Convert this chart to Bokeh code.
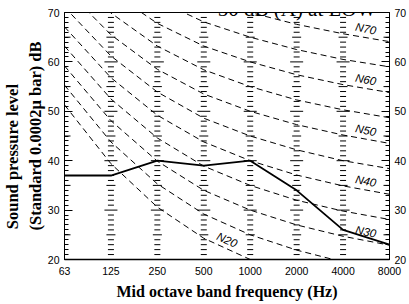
import numpy as np
from bokeh.plotting import figure
from bokeh.models import Range1d, FixedTicker, LinearAxis, SingleIntervalTicker, Label, ColumnDataSource
from bokeh.core.properties import value
from bokeh.embed import file_html
from bokeh.resources import INLINE

# ---------------- data ----------------
freq_labels = ["63", "125", "250", "500", "1000", "2000", "4000", "8000"]
measured_db = [37, 37, 40, 39, 40, 34, 26, 23]

nr20 = [51.3, 39.4, 30.6, 24.3, 20.0, 16.8, 14.4, 12.6]
nr25 = [55.3, 43.8, 35.3, 29.2, 25.0, 21.9, 19.5, 17.8]
nr30 = [59.2, 48.1, 39.9, 34.0, 30.0, 27.0, 24.7, 22.9]
nr35 = [63.2, 52.5, 44.6, 38.9, 35.0, 32.0, 29.8, 28.1]
nr40 = [67.1, 56.8, 49.2, 43.8, 40.0, 37.1, 34.9, 33.2]
nr45 = [71.1, 61.2, 53.9, 48.6, 45.0, 42.2, 40.0, 38.4]
nr50 = [75.0, 65.5, 58.5, 53.5, 50.0, 47.3, 45.2, 43.5]
nr55 = [79.0, 69.9, 63.2, 58.4, 55.0, 52.3, 50.3, 48.7]
nr60 = [82.9, 74.2, 67.8, 63.2, 60.0, 57.4, 55.4, 53.8]
nr65 = [86.9, 78.6, 72.5, 68.1, 65.0, 62.5, 60.5, 59.0]
nr70 = [90.8, 82.9, 77.1, 73.0, 70.0, 67.6, 65.7, 64.1]
nr_curves = [nr20, nr25, nr30, nr35, nr40, nr45, nr50, nr55, nr60, nr65, nr70]
nr_names = ["N20", "N25", "N30", "N35", "N40", "N45", "N50", "N55", "N60", "N65", "N70"]
labelled = ["N20", "N30", "N40", "N50", "N60", "N70"]

y_min, y_max = 20, 70
title_text = "50 dB (A) at LOW"
x_title = "Mid octave band frequency (Hz)"
y_title_1 = "Sound pressure level"
y_title_2 = "(Standard 0.0002\u03bc bar) dB"

xs = list(range(len(freq_labels)))

# ---------------- figure ----------------
p = figure(width=409, height=304, output_backend="svg", toolbar_location=None,
           x_range=Range1d(0, len(xs) - 1), y_range=Range1d(y_min, y_max),
           min_border_left=64, min_border_right=18, min_border_top=12, min_border_bottom=45)
p.xgrid.visible = False
p.ygrid.visible = False
p.background_fill_color = "white"
p.border_fill_color = "white"
p.outline_line_color = "black"
p.outline_line_width = 1

tick_font = "Liberation Sans"
xa = p.xaxis[0]
xa.ticker = FixedTicker(ticks=xs)
xa.major_label_overrides = {i: s for i, s in enumerate(freq_labels)}
xa.major_tick_in = 0
xa.major_tick_out = 0
xa.minor_tick_in = 0
xa.minor_tick_out = 0
xa.axis_line_width = 1.5
xa.major_label_standoff = 7
xa.major_label_text_font = tick_font
xa.major_label_text_font_size = "10.5px"
xa.major_label_text_color = "black"
xa.axis_label = x_title
xa.axis_label_text_font = "Liberation Serif"
xa.axis_label_text_font_style = "bold"
xa.axis_label_text_font_size = "16px"
xa.axis_label_text_color = "black"
xa.axis_label_standoff = 5

ya = p.yaxis[0]
ya_r = LinearAxis()
p.add_layout(ya_r, "right")
for ax in (ya, ya_r):
    ax.ticker = SingleIntervalTicker(interval=10, num_minor_ticks=10)
    ax.major_tick_in = 8
    ax.major_tick_out = 0
    ax.minor_tick_in = 4
    ax.minor_tick_out = 0
    ax.major_label_standoff = 5
    ax.major_label_text_font = tick_font
    ax.major_label_text_font_size = "10.5px"
    ax.major_label_text_color = "black"
    ax.axis_line_width = 1
# first line padded with no-break spaces so both lines start at the same end
ya.axis_label = y_title_1 + "\u00a0" * 10 + "\n" + y_title_2
ya.axis_label_text_font = "Liberation Serif"
ya.axis_label_text_font_style = "bold"
ya.axis_label_text_font_size = "16.5px"
ya.axis_label_text_color = "black"
ya.axis_label_standoff = 0

# ---------------- tick dashes ----------------
levels = list(range(y_min, y_max + 1))
cx, cy, cs = [], [], []
for i in xs[1:-1]:
    for d in levels:
        cx.append(i)
        cy.append(d)
        cs.append(13 if d % 10 == 0 else (9 if d % 5 == 0 else 6))
for i in (xs[0], xs[-1]):
    for d in levels:
        if d % 5 == 0 and d % 10 != 0:
            cx.append(i)
            cy.append(d)
            cs.append(12)
p.scatter(x=cx, y=cy, size=cs, marker="dash", line_color="black", line_width=1)

# ---------------- NR curves ----------------
for curve in nr_curves:
    p.line(xs, curve, line_color="black", line_width=1, line_dash="6 4")

p.line(xs, measured_db, line_color="black", line_width=1.8)

# curve labels
lx, ly, lt, la = [], [], [], []
for name, curve in zip(nr_names, nr_curves):
    if name not in labelled:
        continue
    if name == "N20":
        x0, ang = 3.5, -0.42
    else:
        x0, ang = 6.49, -0.2
    lx.append(x0)
    ly.append(float(np.interp(x0, xs, curve)) + 1.8)
    lt.append(name)
    la.append(ang)
src = ColumnDataSource(dict(x=lx, y=ly, text=lt, angle=la))
p.text(x="x", y="y", text="text", angle="angle", source=src,
       text_font=value("Liberation Sans"), text_font_style="italic",
       text_font_size="11.5px", text_align="center", text_baseline="middle",
       text_color="black")

# ---------------- title ----------------
p.add_layout(Label(x=3.3, y=70.8, text=title_text, text_font="Liberation Serif",
                   text_font_size="21px", text_align="left", text_baseline="alphabetic",
                   text_color="black"))

open("out.html", "w").write(file_html(p, INLINE))
